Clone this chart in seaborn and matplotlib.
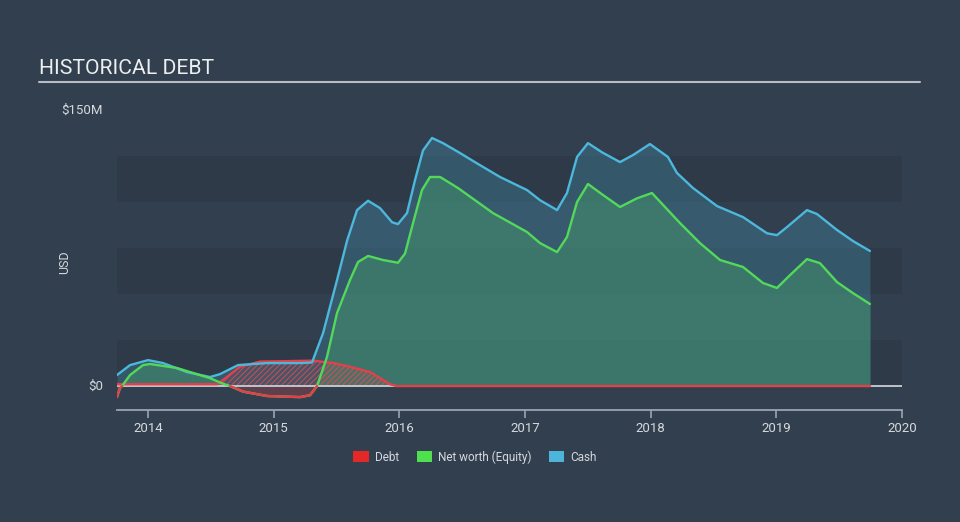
import numpy as np
import pandas as pd
import matplotlib
matplotlib.use("Agg")
import matplotlib.pyplot as plt
from matplotlib.patches import Patch
from matplotlib.lines import Line2D
import seaborn as sns

# ---------------- data (USD millions) ----------------
cash_years = [2013.753, 2013.857, 2014.000, 2014.119, 2014.310, 2014.493, 2014.573, 2014.716,
              2014.947, 2015.210, 2015.305, 2015.393, 2015.504, 2015.584, 2015.663, 2015.751,
              2015.846, 2015.942, 2015.989, 2016.061, 2016.125, 2016.188, 2016.260, 2016.347,
              2016.483, 2016.618, 2016.801, 2017.016, 2017.119, 2017.255, 2017.334, 2017.414,
              2017.501, 2017.613, 2017.756, 2017.859, 2017.994, 2018.137, 2018.209, 2018.337,
              2018.528, 2018.735, 2018.926, 2019.005, 2019.085, 2019.244, 2019.323, 2019.483,
              2019.610, 2019.745]
cash_values = [6.0, 11.4, 14.1, 12.5, 7.6, 4.9, 6.5, 11.4,
               12.5, 12.5, 12.8, 28.8, 57.6, 79.0, 95.6, 100.7,
               96.7, 89.0, 88.0, 94.0, 112.0, 128.0, 134.8, 132.0,
               126.6, 121.0, 113.6, 106.5, 101.0, 95.6, 104.9, 124.5,
               132.0, 127.0, 121.7, 125.5, 131.5, 124.5, 115.8, 107.6,
               97.8, 91.8, 83.0, 82.0, 86.4, 95.6, 93.5, 84.8,
               78.8, 73.4]

equity_years = [2013.753, 2013.777, 2013.793, 2013.857, 2013.960, 2014.016, 2014.231, 2014.493,
                2014.589, 2014.653, 2014.756, 2014.947, 2015.210, 2015.289, 2015.345, 2015.424,
                2015.504, 2015.607, 2015.671, 2015.751, 2015.870, 2015.989, 2016.045, 2016.109,
                2016.180, 2016.244, 2016.324, 2016.467, 2016.745, 2017.016, 2017.119, 2017.255,
                2017.334, 2017.414, 2017.501, 2017.621, 2017.756, 2017.891, 2018.010, 2018.137,
                2018.233, 2018.392, 2018.552, 2018.735, 2018.894, 2019.005, 2019.109, 2019.244,
                2019.347, 2019.483, 2019.610, 2019.745]
equity_values = [-6.0, -1.0, 0.0, 6.0, 11.4, 12.0, 9.8, 4.3,
                 1.5, 0.0, -3.0, -5.4, -6.0, -5.0, 0.0, 15.8,
                 39.7, 57.6, 67.4, 70.7, 68.5, 67.0, 72.0, 88.6,
                 106.5, 113.6, 113.6, 107.6, 94.0, 83.7, 77.7, 72.8,
                 81.0, 100.0, 109.8, 103.8, 97.3, 102.0, 104.9, 95.6,
                 88.6, 77.7, 68.5, 64.7, 56.0, 53.3, 60.3, 69.0,
                 66.8, 56.5, 50.5, 44.6]

debt_years = [2013.753, 2014.549, 2014.629, 2014.732, 2014.891, 2015.313, 2015.472, 2015.607,
              2015.767, 2015.846, 2015.926, 2015.981, 2019.745]
debt_values = [1.0, 1.0, 5.0, 10.5, 13.3, 13.8, 12.5, 10.5,
               7.6, 4.3, 1.0, 0.0, 0.0]

year_ticks = [2014, 2015, 2016, 2017, 2018, 2019, 2020]
year_labels = ["2014", "2015", "2016", "2017", "2018", "2019", "2020"]
band_edges = [(0, 25), (50, 75), (100, 125)]

# ---------------- style ----------------
BG = "#323f4e"
BAND = "#2e3a48"
C_DEBT = "#e5404a"
C_EQ = "#52d95a"
C_CASH = "#4cb8dc"
TXT = "#d5d9de"

sns.set_style("dark")
plt.rcParams["font.family"] = ["Roboto", "DejaVu Sans"]

W, H = 960, 522
fig = plt.figure(figsize=(W / 100, H / 100), dpi=100, facecolor=BG)
ax = fig.add_axes([117 / W, (H - 410) / H, 785 / W, 300 / H])
ax.set_facecolor(BG)
ax.set_xlim(2013.753, 2020.0)
ax.set_ylim(-13.0, 150.0)

for lo, hi in band_edges:
    ax.axhspan(lo, hi, color=BAND, zorder=0, lw=0)

cash_df = pd.DataFrame({"year": cash_years, "value": cash_values})
eq_df = pd.DataFrame({"year": equity_years, "value": equity_values})
debt_df = pd.DataFrame({"year": debt_years, "value": debt_values})

cx = np.array(cash_years); cy = np.array(cash_values)
ex = np.array(equity_years); ey = np.array(equity_values)
dx = np.array(debt_years); dy = np.array(debt_values)

# fills
ax.fill_between(cx, 0, cy, color=C_CASH, alpha=0.23, lw=0, zorder=1)
ax.fill_between(ex, 0, np.maximum(ey, 0), color="#438b6a", alpha=0.6, lw=0, zorder=2)
ax.fill_between(ex, np.minimum(ey, 0), 0, color=C_DEBT, alpha=0.25, lw=0, zorder=2)
plt.rcParams["hatch.linewidth"] = 0.8
ax.fill_between(dx, 0, dy, facecolor=(0.9, 0.25, 0.29, 0.12),
                edgecolor=(0.9, 0.3, 0.33, 0.75), hatch="//////", lw=0, zorder=3)

# zero line
ax.axhline(0, color="#c9ced3", lw=1.3, zorder=3)

# lines
line_kw = dict(lw=1.7, estimator=None)
sns.lineplot(data=cash_df, x="year", y="value", ax=ax, color=C_CASH, zorder=5, **line_kw)
sns.lineplot(data=eq_df, x="year", y="value", ax=ax, color=C_EQ, zorder=5, **line_kw)
neg = np.ma.masked_where(ey > 0, ey)
ax.plot(ex, neg, color=C_DEBT, lw=1.7, zorder=6, solid_joinstyle="round")
sns.lineplot(data=debt_df, x="year", y="value", ax=ax, color=C_DEBT, zorder=4, **line_kw)
for ln in ax.get_lines():
    ln.set_solid_joinstyle("round")
    ln.set_solid_capstyle("round")

# axes cosmetics
ax.set_xlabel("")
ax.set_ylabel("")
ax.set_yticks([])
ax.set_xticks(year_ticks)
ax.set_xticklabels(year_labels)
ax.tick_params(axis="x", colors="#9aa4ae", length=6, width=1.2, labelcolor=TXT,
               labelsize=9.5, pad=3, direction="out", bottom=True)
for s in ["top", "left", "right"]:
    ax.spines[s].set_visible(False)
ax.spines["bottom"].set_visible(True)
ax.spines["bottom"].set_color("#9aa4ae")
ax.spines["bottom"].set_linewidth(1.3)
ax.grid(False)

# texts
fig.text(39 / W, 1 - 69 / H, "HISTORICAL DEBT", fontsize=15.2, color="#eceef0",
         ha="left", va="center")
fig.add_artist(Line2D([39 / W, 920 / W], [1 - 81.5 / H, 1 - 81.5 / H],
                      color="#b8bdc3", lw=1.5))
fig.text(103 / W, 1 - 110 / H, "$150M", fontsize=9.5, color=TXT, ha="right", va="center")
fig.text(103 / W, 1 - 386 / H, "$0", fontsize=9.5, color=TXT, ha="right", va="center")
fig.text(65 / W, 1 - 262 / H, "USD", fontsize=9, color=TXT, ha="center", va="center",
         rotation=90)

handles = [Patch(facecolor="#e42828", edgecolor="none", label="Debt"),
           Patch(facecolor="#4fe04f", edgecolor="none", label="Net worth (Equity)"),
           Patch(facecolor="#4db5dc", edgecolor="none", label="Cash")]
fig.legend(handles=handles, loc="center", bbox_to_anchor=(475 / W, 1 - 457 / H), ncol=3,
           frameon=False, fontsize=8.5, labelcolor=TXT, handlelength=1.3, handleheight=1.0,
           handletextpad=0.5, columnspacing=1.5)

fig.savefig("out.png", dpi=100, facecolor=BG)
